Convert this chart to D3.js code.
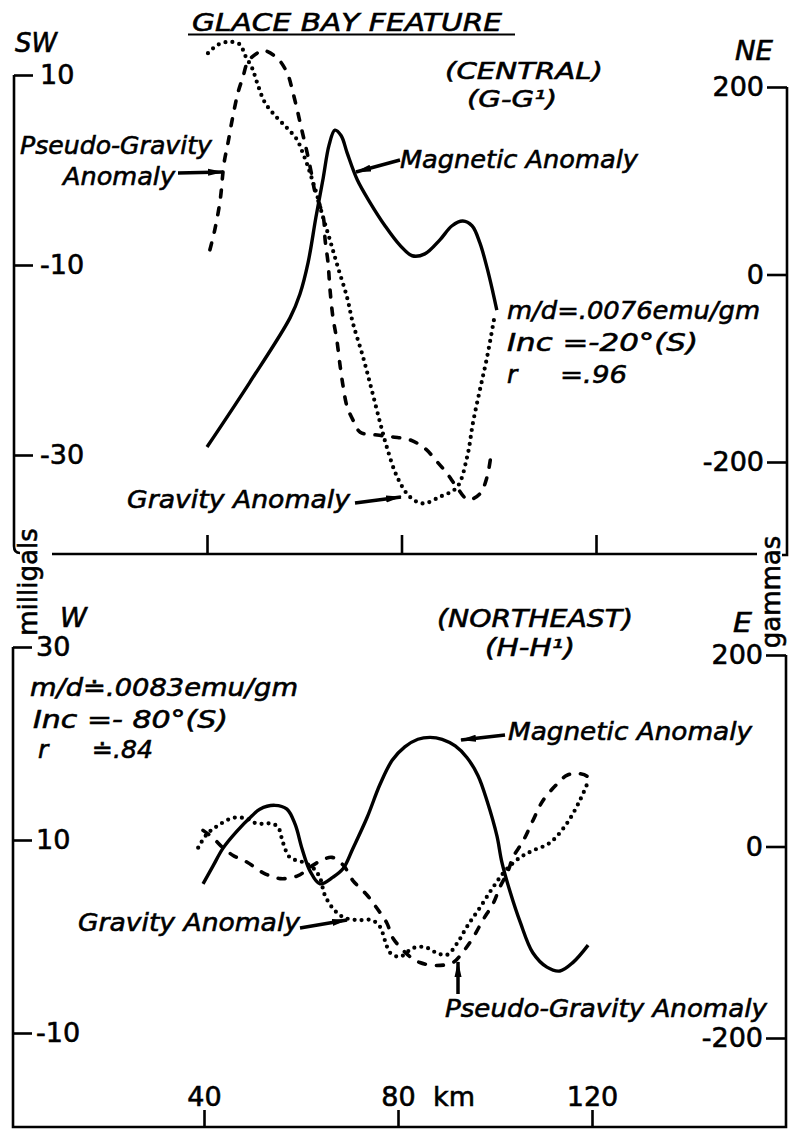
<!DOCTYPE html>
<html>
<head>
<meta charset="utf-8">
<title>Glace Bay Feature</title>
<script src="https://cdn.jsdelivr.net/npm/d3@7"></script>
<style>
  body { margin: 0; background: #fff; }
  svg text { font-family: "DejaVu Sans", sans-serif; fill: #000; stroke: #000; stroke-width: 0.6px; }
  .it { font-style: italic; }
</style>
</head>
<body>
<script>
// profile positions in km, anomalies in milligals (gravity) and gammas (magnetic)
var kmTicks = [40, 80, 120];
var topMgalTicks = [10, -10, -30];
var topGammaTicks = [200, 0, -200];
var botMgalTicks = [30, 10, -10];
var botGammaTicks = [200, 0, -200];

// central profile (G-G1)
var topMagnetic = [[40.0,-184],[48.8,-115],[57.1,-46],[59.1,-21],[60.8,13],[62.4,61],[63.9,103],
  [65.1,138],[66.3,154],[67.6,148],[68.8,130],[70.9,101],[73.5,77],[76.6,52],[79.7,31],[82.2,20],
  [84.8,22],[87.9,37],[90.4,52],[92.6,57],[94.5,52],[96.1,34],[97.6,7],[98.8,-19],[99.6,-38]];
var topGravity = [[40.2,12.3],[42.3,13.2],[44.7,13.5],[46.8,13.2],[47.8,12.1],[49.3,10.7],[50.3,9.2],
  [51.9,7.1],[54.4,5.5],[56.5,4.4],[58.5,3.2],[59.7,1.8],[60.8,0.3],[61.8,-1.3],[62.6,-2.6],[63.6,-4.5],
  [65.3,-7.4],[66.9,-10.2],[68.8,-13.4],[70.0,-16.1],[72.1,-19.7],[73.9,-23.2],[75.6,-26.6],[77.0,-29.2],
  [79.1,-32.3],[81.7,-34.4],[84.4,-35.1],[87.9,-34.4],[91.4,-33.4],[93.5,-30.2],[94.7,-26.6],[96.1,-23.2],
  [97.6,-19.7],[99.0,-15.8]];
var topPseudo = [[40.6,-8.4],[41.6,-6.3],[42.7,-3.2],[43.5,0.7],[44.3,2.8],[45.3,5.6],[46.4,8.2],
  [47.4,9.8],[48.4,11.4],[50.3,12.3],[51.5,12.6],[54.4,11.8],[56.5,10.2],[57.7,8.1],[58.7,6.0],[59.5,4.2],
  [60.6,1.8],[61.6,-0.7],[62.2,-2.3],[63.9,-4.9],[64.3,-7.4],[64.9,-9.8],[65.3,-12.6],[65.9,-15.5],
  [66.7,-17.9],[67.4,-20.7],[68.0,-22.8],[68.8,-24.9],[70.0,-26.3],[71.5,-27.6],[75.0,-27.9],[78.2,-28.1],
  [81.7,-28.4],[84.8,-29.3],[87.3,-30.7],[89.3,-31.9],[91.4,-33.4],[93.7,-34.7],[96.1,-34.1],[97.6,-32.3],
  [98.4,-30.0]];

// northeast profile (H-H1)
var botMagnetic = [[39.8,-39],[41.9,-20],[43.9,-2],[46.8,16],[49.9,32],[51.5,39],[54.6,43],[57.1,39],
  [58.8,23],[60.2,-2],[61.9,-26],[63.9,-39],[66.6,-32],[68.7,-23],[70.7,-2],[73.6,30],[76.3,65],
  [78.8,90],[81.4,104],[84.1,112],[86.6,114],[89.1,112],[91.8,105],[94.2,93],[96.5,74],[98.4,47],
  [100.4,11],[101.4,-16],[103.1,-47],[105.2,-79],[107.8,-111],[110.7,-126],[113.4,-130],[116.1,-121],
  [119.2,-103]];
var botGravity = [[38.8,9.2],[40.6,10.6],[42.9,11.5],[46.0,12.3],[48.9,12.2],[50.9,11.7],[54.0,11.7],
  [55.3,11.3],[56.3,9.7],[57.7,8.2],[60.4,7.7],[62.5,7.1],[63.9,6.1],[64.9,4.3],[66.6,2.9],[68.7,2.0],
  [71.5,1.7],[74.6,1.7],[76.3,1.0],[77.3,-0.4],[78.4,-1.7],[80.4,-2.1],[83.1,-1.2],[85.6,-1.1],[88.0,-1.7],
  [90.1,-1.9],[92.2,-0.7],[94.2,1.0],[96.9,3.0],[99.6,5.1],[102.1,6.8],[105.2,8.2],[107.8,8.9],
  [111.3,9.7],[114.8,11.7],[117.5,14.1],[119.0,15.8]];
var botPseudo = [[39.8,11.0],[41.9,10.2],[43.9,9.2],[46.0,8.4],[48.9,7.7],[52.2,6.6],[55.7,6.0],
  [59.4,6.3],[61.9,7.2],[64.3,7.9],[66.4,8.2],[68.7,7.4],[70.7,5.8],[73.6,4.3],[75.7,2.9],[77.7,1.4],
  [79.0,-0.2],[82.5,-2.1],[84.5,-2.7],[88.0,-3.0],[91.3,-2.7],[93.4,-1.6],[95.5,-0.1],[97.5,1.7],
  [99.6,3.4],[101.0,5.1],[102.7,6.8],[103.7,8.2],[105.8,9.9],[107.8,12.0],[109.9,14.1],[112.8,15.8],
  [114.8,16.7],[116.9,16.9],[119.0,16.6],[120.0,15.8]];

var width = 789, height = 1131;
var svg = d3.select("body").append("svg")
    .attr("width", width).attr("height", height);

var xTop = d3.scaleLinear().domain([0, 160]).range([12.5, 790.5]);
var yTopL = d3.scaleLinear().domain([10, -30]).range([75, 455]);
var yTopR = d3.scaleLinear().domain([200, -200]).range([87, 462]);
var xBot = d3.scaleLinear().domain([0, 160]).range([10, 786]);
var yBotL = d3.scaleLinear().domain([30, -10]).range([647, 1033]);
var yBotR = d3.scaleLinear().domain([200, -200]).range([655, 1038]);

svg.append("defs").append("marker")
    .attr("id", "head")
    .attr("markerUnits", "userSpaceOnUse")
    .attr("viewBox", "0 0 16 8")
    .attr("markerWidth", 16).attr("markerHeight", 8)
    .attr("refX", 15).attr("refY", 4)
    .attr("orient", "auto")
  .append("path")
    .attr("d", "M0,0.5L16,4L0,7.5Z");

// frame lines
var frame = svg.append("g").attr("fill", "none").attr("stroke", "#000").attr("stroke-width", 2.6);
frame.append("path").attr("d", "M14,75V546Q14,553 20,553");
frame.append("path").attr("d", "M52,554H757");
frame.append("path").attr("d", "M787,87V555H782");
frame.append("path").attr("d", "M13,647V1127H786V655");

var plain = function (d) { return String(d); };

function styleAxis(g) {
  g.select(".domain").remove();
  g.attr("font-size", 27).attr("font-family", "DejaVu Sans");
  g.selectAll(".tick line").attr("stroke-width", 2.6);
}

svg.append("g").attr("transform", "translate(14,0)")
  .call(d3.axisRight(yTopL).tickValues(topMgalTicks).tickSize(19).tickPadding(7).tickFormat(plain))
  .call(styleAxis);
svg.append("g").attr("transform", "translate(787,0)")
  .call(d3.axisLeft(yTopR).tickValues(topGammaTicks).tickSize(20).tickPadding(3).tickFormat(plain))
  .call(styleAxis);
svg.append("g").attr("transform", "translate(0,554)")
  .call(d3.axisTop(xTop).tickValues(kmTicks).tickSize(19).tickFormat(""))
  .call(styleAxis);

svg.append("g").attr("transform", "translate(13,0)")
  .call(d3.axisRight(yBotL).tickValues(botMgalTicks).tickSize(19).tickPadding(4).tickFormat(plain))
  .call(styleAxis);
svg.append("g").attr("transform", "translate(786,0)")
  .call(d3.axisLeft(yBotR).tickValues(botGammaTicks).tickSize(20).tickPadding(3).tickFormat(plain))
  .call(styleAxis);
svg.append("g").attr("transform", "translate(0,1127)")
  .call(d3.axisTop(xBot).tickValues(kmTicks).tickSize(17).tickPadding(4).tickFormat(plain))
  .call(styleAxis);

// curves
function curve(data, x, y, kind) {
  var line = d3.line()
      .x(function (d) { return x(d[0]); })
      .y(function (d) { return y(d[1]); })
      .curve(d3.curveCatmullRom.alpha(0.5));
  var p = svg.append("path").datum(data)
      .attr("d", line)
      .attr("fill", "none")
      .attr("stroke", "#000")
      .attr("stroke-linejoin", "round");
  if (kind === "solid") {
    p.attr("stroke-width", 3.4);
  } else if (kind === "dash") {
    p.attr("stroke-width", 3.6).attr("stroke-linecap", "round").attr("stroke-dasharray", "7 11");
  } else {
    p.attr("stroke-width", 4.2).attr("stroke-linecap", "round").attr("stroke-dasharray", "0 7");
  }
}
curve(topMagnetic, xTop, yTopR, "solid");
curve(topGravity, xTop, yTopL, "dot");
curve(topPseudo, xTop, yTopL, "dash");
curve(botMagnetic, xBot, yBotR, "solid");
curve(botGravity, xBot, yBotL, "dot");
curve(botPseudo, xBot, yBotL, "dash");

// arrows
var arrows = [
  [178, 173, 223, 172], [400, 160, 356, 172], [355, 503, 401, 497],
  [505, 735, 461, 740], [300, 928, 347, 920], [458, 994, 458, 962]
];
svg.append("g").selectAll("line").data(arrows).join("line")
    .attr("x1", function (d) { return d[0]; }).attr("y1", function (d) { return d[1]; })
    .attr("x2", function (d) { return d[2]; }).attr("y2", function (d) { return d[3]; })
    .attr("stroke", "#000").attr("stroke-width", 3.5)
    .attr("marker-end", "url(#head)");

// lettering: [text, x, baseline, size, width, italic]
var labels = [
  ["GLACE BAY FEATURE", 192, 31, 25, 310, 1],
  ["SW", 15, 52, 26, 42, 1],
  ["NE", 735, 60, 26, 38, 1],
  ["(CENTRAL)", 445, 79, 23, 158, 1],
  ["(G-G\u00b9)", 467, 107, 23, 90, 1],
  ["Pseudo-Gravity", 20, 154, 25, 192, 1],
  ["Anomaly", 63, 185, 25, 112, 1],
  ["Magnetic Anomaly", 400, 168, 25, 238, 1],
  ["m/d=.0076emu/gm", 507, 319, 25, 253, 1],
  ["Inc =-20\u00b0(S)", 507, 351, 25, 191, 1],
  ["r", 507, 383, 25, 0, 1],
  ["=.96", 560, 383, 25, 67, 1],
  ["Gravity Anomaly", 127, 508, 25, 223, 1],
  ["W", 60, 627, 26, 27, 1],
  ["E", 733, 632, 26, 19, 1],
  ["(NORTHEAST)", 437, 627, 24, 196, 1],
  ["(H-H\u00b9)", 485, 656, 24, 90, 1],
  ["m/d\u2250.0083emu/gm", 30, 696, 25, 268, 1],
  ["Inc =- 80\u00b0(S)", 33, 728, 25, 195, 1],
  ["r", 38, 758, 25, 0, 1],
  ["\u2250.84", 92, 758, 25, 61, 1],
  ["Magnetic Anomaly", 508, 740, 25, 244, 1],
  ["Gravity Anomaly", 78, 931, 25, 222, 1],
  ["Pseudo-Gravity Anomaly", 445, 1017, 25, 322, 1],
  ["km", 433, 1106, 27, 0, 0]
];
svg.append("g").selectAll("text").data(labels).join("text")
    .attr("class", function (d) { return d[5] ? "it" : null; })
    .attr("x", function (d) { return d[1]; })
    .attr("y", function (d) { return d[2]; })
    .attr("font-size", function (d) { return d[3]; })
    .attr("textLength", function (d) { return d[4] || null; })
    .attr("lengthAdjust", "spacingAndGlyphs")
    .text(function (d) { return d[0]; });

svg.append("line").attr("x1", 188).attr("x2", 515).attr("y1", 34.5).attr("y2", 34.5)
    .attr("stroke", "#000").attr("stroke-width", 2.2);

svg.append("text").attr("transform", "translate(37,582) rotate(-90)")
    .attr("text-anchor", "middle").attr("font-size", 26).text("milligals");
svg.append("text").attr("transform", "translate(780,592) rotate(-90)")
    .attr("text-anchor", "middle").attr("font-size", 26).text("gammas");
</script>
</body>
</html>
